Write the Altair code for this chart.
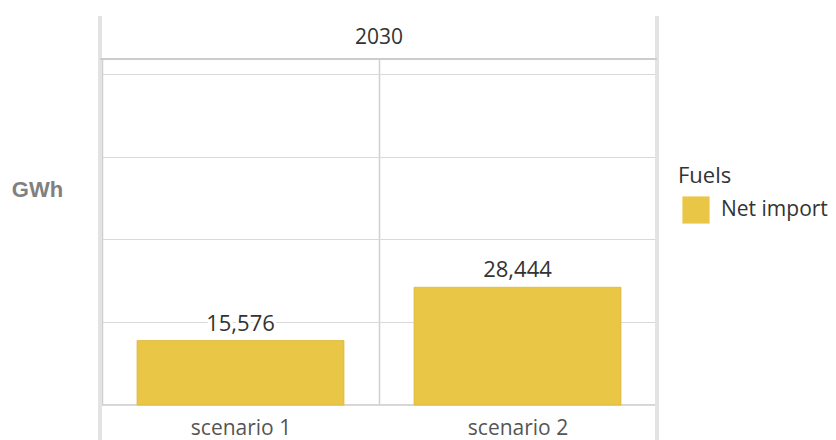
import altair as alt
import pandas as pd

scenarios = ["scenario 1", "scenario 2"]
values = [15576, 28444]
fuels = ["Net import", "Net import"]
year = ["2030"]

df = pd.DataFrame({"Scenario": scenarios, "GWh": values, "Fuels": fuels})
df_year = pd.DataFrame({"Year": year})

W, H = 554, 346
FONT = "Open Sans"

x = alt.X("Scenario:N", sort=scenarios,
          scale=alt.Scale(paddingInner=0, paddingOuter=0),
          axis=alt.Axis(title=None, labelAngle=0, labelFontSize=21, labelFont=FONT,
                        labelColor="#555555", labelPadding=12, ticks=False, domain=False,
                        grid=True, tickBand="extent", gridColor="#d0d0d0", gridWidth=1.5))
y = alt.Y("GWh:Q", scale=alt.Scale(domain=[0, 83600], nice=False),
          axis=alt.Axis(title="GWh", values=[0, 20000, 40000, 60000, 80000], labels=False,
                        ticks=False, domain=False, grid=True, gridColor="#d9d9d9",
                        gridWidth=1.2, titleAngle=0, titleX=-65, titleY=130,
                        titleAlign="center", titleBaseline="middle",
                        titleFont="Liberation Sans", titleFontSize=22,
                        titleFontWeight="bold", titleColor="#808080"))

base = alt.Chart(df)

bars = base.mark_bar(width=alt.RelativeBandSize(0.747), stroke="#dcb83c", strokeWidth=0.8).encode(
    x=x, y=y,
    color=alt.Color("Fuels:N", scale=alt.Scale(domain=["Net import"], range=["#E9C646"]),
                    legend=alt.Legend(orient="none", legendX=576, legendY=107,
                                      title="Fuels", titleFont=FONT, titleFontSize=22,
                                      titleFontWeight="normal", titleColor="#333333",
                                      titlePadding=8,
                                      labelFont=FONT, labelFontSize=21, labelColor="#333333",
                                      symbolType="square", symbolSize=740,
                                      symbolStrokeWidth=0, symbolOffset=4, labelOffset=11)),
)

halo = base.mark_text(baseline="alphabetic", dy=-10, font=FONT, fontSize=22,
                      stroke="white", strokeWidth=6, fill="white").encode(
    x=alt.X("Scenario:N", sort=scenarios), y="GWh:Q",
    text=alt.Text("GWh:Q", format=",.0f"))
labels = base.mark_text(baseline="alphabetic", dy=-10, font=FONT, fontSize=22,
                        color="#333333").encode(
    x=alt.X("Scenario:N", sort=scenarios), y="GWh:Q",
    text=alt.Text("GWh:Q", format=",.0f"))

header = alt.Chart(df_year).mark_text(font=FONT, fontSize=21, color="#333333",
                                      baseline="middle", align="center").encode(
    x=alt.value(W / 2), y=alt.value(-21), text="Year:N")

outer_left = alt.Chart(df_year).mark_rule(color="#e3e3e3", strokeWidth=4).encode(
    x=alt.value(-2), y=alt.value(-43), y2=alt.value(381))
outer_right = alt.Chart(df_year).mark_rule(color="#e3e3e3", strokeWidth=4).encode(
    x=alt.value(W + 1), y=alt.value(-43), y2=alt.value(381))

top_line = alt.Chart(df_year).mark_rule(color="#c8c8c8", strokeWidth=1.5).encode(
    x=alt.value(-2), x2=alt.value(W + 1), y=alt.value(0))

chart = alt.layer(outer_left, outer_right, bars, halo, labels, header, top_line).properties(
    width=W, height=H,
    autosize=alt.AutoSizeParams(type="none"),
    padding={"left": 94, "top": 51, "right": 172, "bottom": 35},
).configure_view(stroke="#c8c8c8", strokeWidth=1.5)

chart.save("out.html", embed_options={"renderer": "svg", "actions": False})
